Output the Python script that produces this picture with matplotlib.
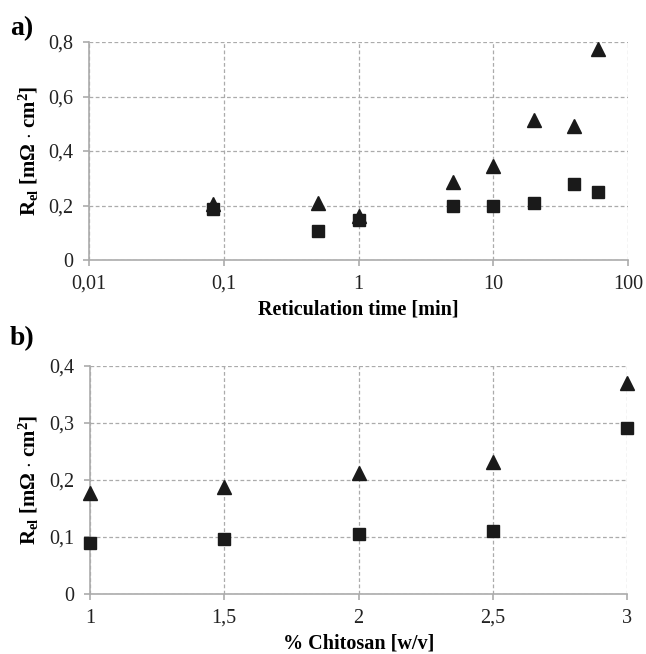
import matplotlib
matplotlib.use("Agg")
import matplotlib.pyplot as plt
from matplotlib.ticker import FixedLocator, FixedFormatter, NullLocator

plt.rcParams['font.family'] = ['Liberation Serif', 'DejaVu Serif']
plt.rcParams['mathtext.fontset'] = 'custom'
plt.rcParams['mathtext.rm'] = 'Liberation Serif'
plt.rcParams['mathtext.bf'] = 'Liberation Serif:bold'
plt.rcParams['mathtext.it'] = 'Liberation Serif:italic'

# Panel a) data
time_min = [0.083, 0.5, 1, 5, 10, 20, 40, 60]
a_squares = [0.188, 0.106, 0.147, 0.198, 0.200, 0.209, 0.280, 0.249]
a_triangles = [0.204, 0.211, 0.163, 0.288, 0.344, 0.513, 0.492, 0.774]
a_xticks = [0.01, 0.1, 1, 10, 100]
a_xticklabels = ["0,01", "0,1", "1", "10", "100"]
a_yticks = [0, 0.2, 0.4, 0.6, 0.8]
a_yticklabels = ["0", "0,2", "0,4", "0,6", "0,8"]

# Panel b) data
chitosan = [1, 1.5, 2, 2.5, 3]
b_squares = [0.089, 0.097, 0.105, 0.111, 0.291]
b_triangles = [0.178, 0.187, 0.212, 0.231, 0.370]
b_xticks = [1, 1.5, 2, 2.5, 3]
b_xticklabels = ["1", "1,5", "2", "2,5", "3"]
b_yticks = [0, 0.1, 0.2, 0.3, 0.4]
b_yticklabels = ["0", "0,1", "0,2", "0,3", "0,4"]

W, H = 646, 654
fig = plt.figure(figsize=(W / 100, H / 100), dpi=100)

axis_col = '#ababab'
grid_col = '#ababab'
mark_col = '#1a1a1a'
ylabel = r'$\mathbf{R_{el}\ [m\Omega\ {\cdot}\ cm^2]}$'


def style(ax):
    for s in ['top', 'right']:
        ax.spines[s].set_visible(False)
    for s in ['left', 'bottom']:
        ax.spines[s].set_color(axis_col)
        ax.spines[s].set_linewidth(1.2)
    ax.tick_params(axis='both', which='major', direction='out', length=4.5,
                   color=axis_col, labelsize=14.5, labelcolor='#222222', width=1.2)
    ax.tick_params(axis='x', pad=6)
    ax.tick_params(axis='y', pad=7)
    ax.grid(True, which='major', linestyle=(0, (3, 2)), color=grid_col, linewidth=0.9)
    ax.set_axisbelow(True)


def px_axes(x0, y0, x1, y1):
    return fig.add_axes([x0 / W, 1 - y1 / H, (x1 - x0) / W, (y1 - y0) / H])


# Panel a
ax1 = px_axes(89, 42, 628, 260)
ax1.set_xscale('log')
ax1.set_xlim(0.01, 100)
ax1.set_ylim(0, 0.8)
ax1.xaxis.set_major_locator(FixedLocator(a_xticks))
ax1.xaxis.set_major_formatter(FixedFormatter(a_xticklabels))
ax1.xaxis.set_minor_locator(NullLocator())
ax1.yaxis.set_major_locator(FixedLocator(a_yticks))
ax1.yaxis.set_major_formatter(FixedFormatter(a_yticklabels))
style(ax1)
ax1.plot(time_min, a_triangles, linestyle='none', marker='^', color=mark_col,
         markersize=9.5, clip_on=False, zorder=3)
ax1.plot(time_min, a_squares, linestyle='none', marker='s', color=mark_col,
         markersize=8, clip_on=False, zorder=4)
ax1.set_xlabel('Reticulation time [min]', fontsize=14.5, fontweight='bold', labelpad=4)
ax1.set_ylabel(ylabel, fontsize=15)
ax1.yaxis.set_label_coords(-48 / 539, 0.5)

# Panel b
ax2 = px_axes(90, 366, 627, 594)
ax2.set_xlim(1, 3)
ax2.set_ylim(0, 0.4)
ax2.xaxis.set_major_locator(FixedLocator(b_xticks))
ax2.xaxis.set_major_formatter(FixedFormatter(b_xticklabels))
ax2.yaxis.set_major_locator(FixedLocator(b_yticks))
ax2.yaxis.set_major_formatter(FixedFormatter(b_yticklabels))
style(ax2)
ax2.plot(chitosan, b_triangles, linestyle='none', marker='^', color=mark_col,
         markersize=9.5, clip_on=False, zorder=3)
ax2.plot(chitosan, b_squares, linestyle='none', marker='s', color=mark_col,
         markersize=8, clip_on=False, zorder=4)
ax2.set_xlabel('% Chitosan [w/v]', fontsize=14.5, fontweight='bold', labelpad=4)
ax2.set_ylabel(ylabel, fontsize=15)
ax2.yaxis.set_label_coords(-49 / 537, 0.5)

fig.text(10 / W, 1 - 35 / H, 'a)', fontsize=20, fontweight='bold', ha='left', va='baseline')
fig.text(10 / W, 1 - 345 / H, 'b)', fontsize=20, fontweight='bold', ha='left', va='baseline')

fig.savefig('out.png', dpi=100)
